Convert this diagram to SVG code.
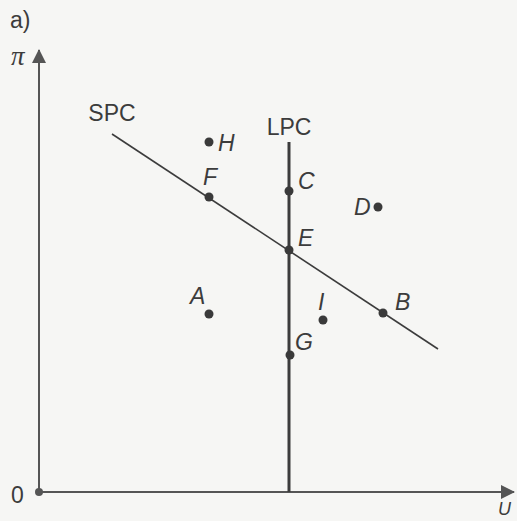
<svg xmlns="http://www.w3.org/2000/svg" width="517" height="521" viewBox="0 0 517 521">
<defs>
<style>
.lbl{font-family:"Liberation Sans",Arial,sans-serif;font-size:23px;fill:#3c3c3c}
.it{font-style:italic}
.pt{fill:#3a3a3a}
.axis{stroke:#555;stroke-width:2;fill:none}
</style>
<marker id="arr" markerWidth="15" markerHeight="15" refX="13" refY="7" orient="auto" markerUnits="userSpaceOnUse">
<path d="M0,0 L14,7 L0,14 Z" fill="#555"/>
</marker>
</defs>
<rect width="517" height="521" fill="#f6f6f4"/>
<text class="lbl" x="10" y="28">a)</text>
<text class="lbl it" x="11" y="65" style="font-family:'Liberation Serif','Times New Roman',serif;font-size:27px">π</text>
<text class="lbl" x="11" y="503">0</text>
<text class="lbl it" x="498" y="515" style="font-size:18px">U</text>
<g id="connectors">
<line class="axis" x1="39" y1="492" x2="39" y2="50" marker-end="url(#arr)"/>
<line class="axis" x1="39" y1="492" x2="514" y2="492" marker-end="url(#arr)"/>
<line id="spc-line" x1="112" y1="134" x2="438" y2="349" stroke="#3c3c3c" stroke-width="1.6"/>
<line id="lpc-line" x1="289" y1="142" x2="289" y2="492" stroke="#3c3c3c" stroke-width="3"/>
</g>
<g id="origin"><circle cx="39" cy="492" r="4" fill="#555"/></g>
<g id="SPC"><text class="lbl" x="112" y="121" text-anchor="middle">SPC</text></g>
<g id="LPC"><text class="lbl" x="289" y="135" text-anchor="middle">LPC</text></g>
<g id="H"><circle class="pt" cx="209" cy="142" r="4.5"/><text class="lbl it" x="218" y="151">H</text></g>
<g id="F"><circle class="pt" cx="209" cy="197" r="4.5"/><text class="lbl it" x="203" y="185">F</text></g>
<g id="C"><circle class="pt" cx="289" cy="191" r="4.5"/><text class="lbl it" x="298" y="189">C</text></g>
<g id="D"><circle class="pt" cx="378" cy="207" r="4.5"/><text class="lbl it" x="354" y="215">D</text></g>
<g id="E"><circle class="pt" cx="289" cy="250" r="4.5"/><text class="lbl it" x="298" y="246">E</text></g>
<g id="A"><circle class="pt" cx="209" cy="314" r="4.5"/><text class="lbl it" x="190" y="304">A</text></g>
<g id="I"><circle class="pt" cx="323" cy="320" r="4.5"/><text class="lbl it" x="318" y="310">I</text></g>
<g id="B"><circle class="pt" cx="383" cy="313" r="4.5"/><text class="lbl it" x="395" y="310">B</text></g>
<g id="G"><circle class="pt" cx="290" cy="355" r="4.5"/><text class="lbl it" x="295" y="350">G</text></g>
</svg>
